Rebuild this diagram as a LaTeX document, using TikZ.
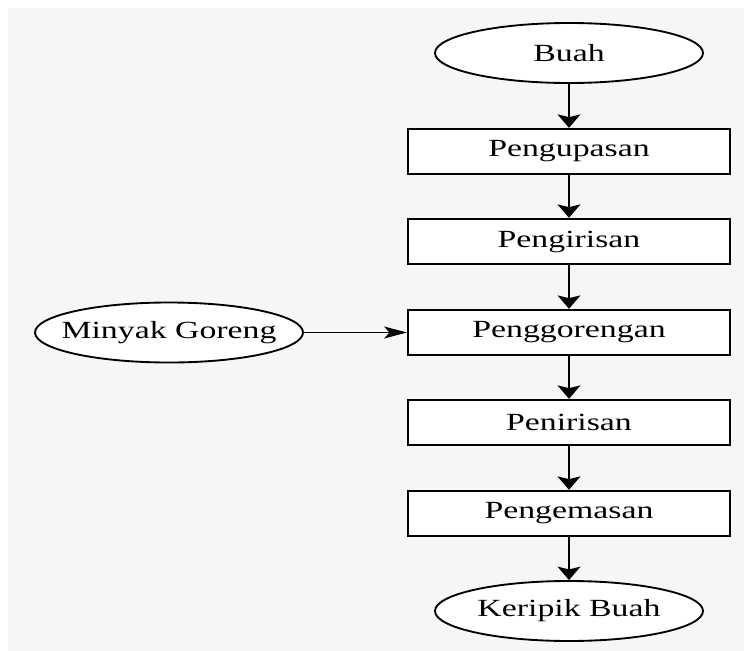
\documentclass[tikz,border=0pt]{standalone}
\usepackage{fontspec}
\setmainfont{Liberation Serif}
\newfontfamily\wideserif[FakeStretch=1.37]{Liberation Serif}
\usetikzlibrary{shapes.geometric,arrows.meta}
\definecolor{bggray}{HTML}{F6F6F6}

\begin{document}
\begin{tikzpicture}
		[x=0.75pt,y=-0.75pt]
			\tikzset{every node/.style={draw, fill=white,
		font=\wideserif\fontsize{18.5}{22}\selectfont, inner sep=0pt},
		proses/.style={rectangle, line width=1.8pt, minimum width=241.5pt, minimum height=33.75pt},
		bahan/.style={ellipse, line width=1.4pt, inner xsep=-12pt, minimum width=201pt, minimum height=45pt},
		panah/.style={line width=1.7pt, -{Stealth[length=10pt,width=17pt,inset=2pt]}},
		masuk/.style={line width=1.1pt, -{Stealth[length=17pt,width=9pt,inset=4pt]}}}
		\useasboundingbox (0,0) rectangle (744,651);
		\fill[bggray] (8,8) rectangle (744,651);
		%-----bahan
		 \node[bahan]  (buah) at (569,53) {Buah};
		 \node[bahan]  (minyak) at (169,332.5) {Minyak Goreng};
		 \node[bahan]  (keripik) at (569,611) {Keripik Buah};
		%-----proses
		 \node[proses]  (kupas) at (569,151.5) {Pengupasan};
		 \node[proses]  (iris) at (569,241.5) {Pengirisan};
		 \node[proses]  (goreng) at (569,332.5) {Penggorengan};
		 \node[proses]  (tiris) at (569,422.5) {Penirisan};
		 \node[proses]  (kemas) at (569,513.5) {Pengemasan};
		 
		 \foreach \from/\to in {buah/kupas,kupas/iris,iris/goreng,goreng/tiris,tiris/kemas,kemas/keripik}  
		 \draw[panah] (\from) -- (\to); 
		 \draw[masuk] (minyak) -- (goreng);
		 
		 	\end{tikzpicture}
\end{document}
